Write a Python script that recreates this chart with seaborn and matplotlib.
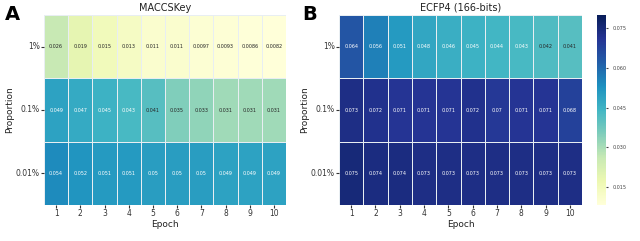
import numpy as np
import pandas as pd
import matplotlib
matplotlib.use("Agg")
import matplotlib.pyplot as plt
import seaborn as sns

epochs = [1, 2, 3, 4, 5, 6, 7, 8, 9, 10]
proportions = ["1%", "0.1%", "0.01%"]

# MACCSKey values per proportion
maccs_1 = [0.026, 0.019, 0.015, 0.013, 0.011, 0.011, 0.0097, 0.0093, 0.0086, 0.0082]
maccs_01 = [0.049, 0.047, 0.045, 0.043, 0.041, 0.035, 0.033, 0.031, 0.031, 0.031]
maccs_001 = [0.054, 0.052, 0.051, 0.051, 0.05, 0.05, 0.05, 0.049, 0.049, 0.049]

# ECFP4 (166-bits) values per proportion
ecfp_1 = [0.064, 0.056, 0.051, 0.048, 0.046, 0.045, 0.044, 0.043, 0.042, 0.041]
ecfp_01 = [0.073, 0.072, 0.071, 0.071, 0.071, 0.072, 0.07, 0.071, 0.071, 0.068]
ecfp_001 = [0.075, 0.074, 0.074, 0.073, 0.073, 0.073, 0.073, 0.073, 0.073, 0.073]

df_maccs = pd.DataFrame([maccs_1, maccs_01, maccs_001], index=proportions, columns=epochs)
df_ecfp = pd.DataFrame([ecfp_1, ecfp_01, ecfp_001], index=proportions, columns=epochs)

# colour range
vmin = 0.0082
vmax = 0.080

fig = plt.figure(figsize=(6.4, 2.41), dpi=100)
ax1 = fig.add_axes([44 / 640, 1 - 205 / 241, 242 / 640, 190 / 241])
ax2 = fig.add_axes([339 / 640, 1 - 205 / 241, 243 / 640, 190 / 241])
cax = fig.add_axes([597 / 640, 1 - 205 / 241, 9 / 640, 190 / 241])

common = dict(cmap="YlGnBu", vmin=vmin, vmax=vmax, annot=True, fmt=".2g",
              annot_kws={"fontsize": 3.5}, linewidths=0.6, linecolor="#e8eef2")

sns.heatmap(df_maccs, ax=ax1, cbar=False, **common)
sns.heatmap(df_ecfp, ax=ax2, cbar_ax=cax, **common)

for ax, title in [(ax1, "MACCSKey"), (ax2, "ECFP4 (166-bits)")]:
    ax.set_title(title, fontsize=7, pad=3, color="#222222")
    ax.set_xlabel("Epoch", fontsize=6.5, labelpad=1, color="#222222")
    ax.set_ylabel("Proportion", fontsize=6.5, labelpad=1.5, color="#222222")
    ax.tick_params(axis="both", labelsize=5.5, length=2, pad=1, colors="#333333")
    ax.set_yticklabels(proportions, rotation=0)

cax.tick_params(labelsize=3.5, length=1.5, colors="#444444")
cax.set_yticks([0.015, 0.030, 0.045, 0.060, 0.075])
cax.set_yticklabels(["0.015", "0.030", "0.045", "0.060", "0.075"])
for s in cax.spines.values():
    s.set_visible(False)

fig.text(5 / 640, 1 - 20 / 241, "A", fontsize=14, fontweight="bold")
fig.text(302 / 640, 1 - 20 / 241, "B", fontsize=14, fontweight="bold")

plt.savefig("out.png", dpi=100)
